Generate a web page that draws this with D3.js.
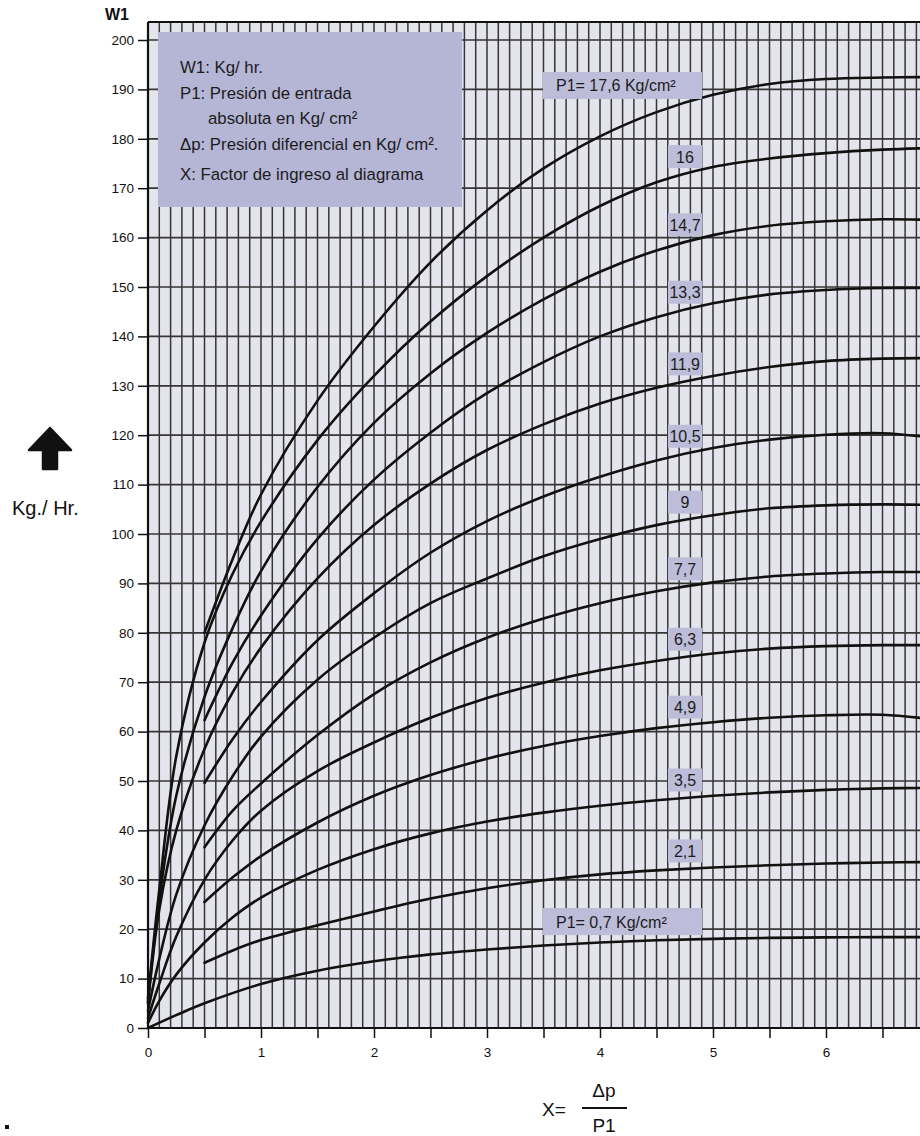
<!DOCTYPE html>
<html>
<head>
<meta charset="utf-8">
<script src="https://cdn.jsdelivr.net/npm/d3@7"></script>
<style>
  html, body { margin: 0; padding: 0; background: #ffffff; }
  svg { display: block; font-family: "Liberation Sans", Arial, Helvetica, sans-serif; }
</style>
</head>
<body>
<svg id="chart" width="920" height="1136"></svg>
<script>
// Flow curves W1 (Kg/hr) versus entry factor X = Δp / P1, one curve per inlet pressure P1.
const p0_7  = [[0,0],[0.25,2.6],[0.5,5],[1,8.9],[1.5,11.6],[2,13.5],[2.5,14.9],[3,15.9],[3.5,16.7],[4,17.3],[4.5,17.75],[5,18.05],[5.5,18.25],[6,18.35],[6.5,18.4],[6.9,18.4]];
const p2_1  = [[0.5,13.2],[0.75,15.7],[1,17.8],[1.5,20.8],[2,23.6],[2.5,26.2],[3,28.3],[3.5,29.9],[4,31.1],[4.5,31.9],[5,32.5],[5.5,32.95],[6,33.3],[6.5,33.5],[6.9,33.6]];
const p3_5  = [[0,1],[0.1,5.5],[0.25,10.8],[0.5,17.3],[0.75,22.4],[1,26.4],[1.5,32],[2,36.2],[2.5,39.4],[3,41.8],[3.5,43.6],[4,45],[4.5,46.1],[5,47],[5.5,47.7],[6,48.2],[6.5,48.5],[6.9,48.6]];
const p4_9  = [[0.5,25.5],[0.75,30.5],[1,34.8],[1.5,41.6],[2,47],[2.5,51.2],[3,54.5],[3.5,57.1],[4,59.1],[4.5,60.7],[5,61.9],[5.5,62.8],[6,63.3],[6.5,63.4],[6.9,62.6]];
const p6_3  = [[0,2],[0.1,9],[0.25,18.5],[0.5,30],[0.75,38],[1,44],[1.5,52],[2,57.8],[2.5,62.8],[3,66.8],[3.5,69.9],[4,72.4],[4.5,74.3],[5,75.8],[5.5,76.8],[6,77.3],[6.5,77.5],[6.9,77.5]];
const p7_7  = [[0.5,36.6],[0.75,44],[1,49.5],[1.5,59.3],[2,67.6],[2.5,74],[3,79],[3.5,82.9],[4,86],[4.5,88.4],[5,90.2],[5.5,91.4],[6,92],[6.5,92.3],[6.9,92.3]];
const p9    = [[0,3.5],[0.1,14],[0.25,27],[0.5,41],[0.75,51],[1,59],[1.5,70.5],[2,79],[2.5,86],[3,91],[3.5,95.5],[4,99],[4.5,101.8],[5,103.8],[5.5,105.2],[6,105.8],[6.5,106],[6.9,105.9]];
const p10_5 = [[0.5,49.6],[0.75,58.5],[1,66],[1.5,78.5],[2,88],[2.5,96.2],[3,102.6],[3.5,107.6],[4,111.6],[4.5,114.9],[5,117.4],[5.5,119.1],[6,120.1],[6.5,120.4],[6.9,119.6]];
const p11_9 = [[0,5],[0.1,24],[0.25,40],[0.5,56.5],[0.75,68],[1,77],[1.5,91],[2,101.8],[2.5,110.2],[3,117],[3.5,122.2],[4,126.4],[4.5,129.6],[5,132],[5.5,133.8],[6,135],[6.5,135.5],[6.9,135.6]];
const p13_3 = [[0.5,62.3],[0.75,74],[1,83.5],[1.5,99],[2,111],[2.5,120.5],[3,128.5],[3.5,134.8],[4,140],[4.5,143.9],[5,146.7],[5.5,148.5],[6,149.4],[6.5,149.8],[6.9,149.8]];
const p14_7 = [[0,5.5],[0.1,26],[0.25,47],[0.5,67],[0.75,81],[1,92.5],[1.5,109.5],[2,122.5],[2.5,132.5],[3,140.7],[3.5,147.5],[4,153.1],[4.5,157.4],[5,160.5],[5.5,162.4],[6,163.3],[6.5,163.7],[6.9,163.6]];
const p16   = [[0,6],[0.1,28],[0.25,55],[0.5,78],[0.75,92],[1,102.5],[1.5,119],[2,132],[2.5,143],[3,152.2],[3.5,160],[4,166.4],[4.5,171.2],[5,174.3],[5.5,176],[6,177.1],[6.5,177.8],[6.9,178.1]];
const p17_6 = [[0.5,80],[0.75,95],[1,108],[1.5,127],[2,142],[2.5,155],[3,165.5],[3.5,174],[4,180.5],[4.5,185.4],[5,188.9],[5.5,191.1],[6,192.1],[6.5,192.4],[6.9,192.5]];

const curves = [p0_7, p2_1, p3_5, p4_9, p6_3, p7_7, p9, p10_5, p11_9, p13_3, p14_7, p16, p17_6];
const curveLabels = ["P1= 0,7 Kg/cm²", "2,1", "3,5", "4,9", "6,3", "7,7", "9", "10,5", "11,9", "13,3", "14,7", "16", "P1= 17,6 Kg/cm²"];

const yTicks = d3.range(0, 201, 10);
const xTicks = d3.range(0, 7, 0.5);
const xLabelTicks = [0, 1, 2, 3, 4, 5, 6];
const legendLines = ["W1: Kg/ hr.", "P1: Presión de entrada", "absoluta en Kg/ cm²", "Δp: Presión diferencial en Kg/ cm².", "X: Factor de ingreso al diagrama"];

const svg = d3.select("#chart");
const plotLeft = 148, plotBottom = 1028, plotTop = 22, plotRight = 920, pxPerX = 113;
const x = d3.scaleLinear().domain([0, 6.9]).range([plotLeft, plotLeft + 6.9 * pxPerX]);
const y = d3.scaleLinear().domain([0, 200]).range([plotBottom, 40]);

const gridColor = "#363636";
const paper = "#e4e4ec";
const boxFill = "#b5b5d5";
const tagFill = "#bdbdda";

// plotting paper
svg.append("rect").attr("x", plotLeft).attr("y", plotTop).attr("width", plotRight - plotLeft).attr("height", plotBottom - plotTop).attr("fill", paper);

// fine vertical rulings every 0.1
const g = svg.append("g");
g.selectAll("line.v").data(d3.range(0, 70).map(i => i / 10)).join("line")
  .attr("class", "v")
  .attr("x1", d => x(d)).attr("x2", d => x(d))
  .attr("y1", plotTop).attr("y2", plotBottom)
  .attr("stroke", gridColor).attr("stroke-width", 1.5);
// horizontal rulings every 10
g.selectAll("line.h").data(yTicks).join("line")
  .attr("class", "h")
  .attr("x1", plotLeft).attr("x2", plotRight)
  .attr("y1", d => y(d)).attr("y2", d => y(d))
  .attr("stroke", gridColor).attr("stroke-width", 1.7);

// frame
svg.append("line").attr("x1", plotLeft).attr("x2", plotRight).attr("y1", plotTop).attr("y2", plotTop).attr("stroke", "#111").attr("stroke-width", 2);
svg.append("line").attr("x1", plotLeft).attr("x2", plotRight).attr("y1", plotBottom).attr("y2", plotBottom).attr("stroke", "#111").attr("stroke-width", 2);
svg.append("line").attr("x1", plotLeft).attr("x2", plotLeft).attr("y1", plotTop).attr("y2", plotBottom + 1).attr("stroke", "#111").attr("stroke-width", 2.2);

// curves
const line = d3.line().x(d => x(d[0])).y(d => y(d[1])).curve(d3.curveCatmullRom.alpha(0.5));
svg.append("g").selectAll("path").data(curves).join("path")
  .attr("d", line).attr("fill", "none")
  .attr("stroke", "#111").attr("stroke-width", 2.6)
  .attr("stroke-linecap", "round");

// legend box
const lg = svg.append("g");
lg.append("rect").attr("x", 158).attr("y", 32).attr("width", 304).attr("height", 175).attr("fill", boxFill);
const legendY = [73, 99, 124, 150, 180];
const legendX = [180, 180, 208, 180, 180];
lg.selectAll("text").data(legendLines).join("text")
  .attr("x", (d, i) => legendX[i]).attr("y", (d, i) => legendY[i])
  .attr("font-size", 16.8).attr("fill", "#1c1c1c")
  .text(d => d);

// curve tags, placed just above each curve
function valueAt(pts, xv) {
  for (let i = 1; i < pts.length; i++) {
    if (pts[i][0] >= xv) {
      const a = pts[i - 1], b = pts[i];
      return a[1] + (b[1] - a[1]) * (xv - a[0]) / (b[0] - a[0]);
    }
  }
  return pts[pts.length - 1][1];
}
const tagX = 4.75;
const tags = svg.append("g");
curves.forEach((pts, i) => {
  const cy = y(valueAt(pts, tagX)) - 18;
  const label = curveLabels[i];
  const wide = label.startsWith("P1");
  const bx = wide ? 543 : 668, bw = wide ? 159 : 34, bh = wide ? 27 : 23;
  tags.append("rect").attr("x", bx).attr("y", cy - bh / 2).attr("width", bw).attr("height", bh).attr("fill", tagFill);
  tags.append("text")
    .attr("x", wide ? 556 : 685).attr("y", cy + 6)
    .attr("text-anchor", wide ? "start" : "middle")
    .attr("font-size", 16).attr("fill", "#1c1c1c")
    .text(label);
});

// y axis
const yAxis = d3.axisLeft(y).tickValues(yTicks).tickSize(10).tickPadding(4).tickFormat(d3.format("d"));
const ya = svg.append("g").attr("transform", `translate(${plotLeft},0)`).call(yAxis);
ya.select(".domain").remove();
ya.selectAll(".tick line").attr("stroke", "#111").attr("stroke-width", 1.5);
ya.selectAll(".tick text").attr("font-size", 13.5).attr("fill", "#111").attr("font-family", "Liberation Sans, Arial, sans-serif");

// x axis
const xAxis = d3.axisBottom(x).tickValues(xTicks).tickSize(10).tickPadding(9)
  .tickFormat(d => xLabelTicks.includes(d) ? d3.format("d")(d) : "");
const xa = svg.append("g").attr("transform", `translate(0,${plotBottom})`).call(xAxis);
xa.select(".domain").remove();
xa.selectAll(".tick line").attr("stroke", "#111").attr("stroke-width", 1.5);
xa.selectAll(".tick text").attr("font-size", 13.5).attr("fill", "#111").attr("font-family", "Liberation Sans, Arial, sans-serif");

// axis titles
svg.append("text").attr("x", 105).attr("y", 20).attr("font-size", 16).attr("font-weight", "bold").attr("fill", "#111").text("W1");
svg.append("path")
  .attr("d", "M50,428 L71,450 L57,450 L57,469 L43,469 L43,450 L29,450 Z")
  .attr("fill", "#111").attr("stroke", "#111").attr("stroke-width", 2.5).attr("stroke-linejoin", "round");
svg.append("text").attr("x", 12).attr("y", 515).attr("font-size", 20).attr("fill", "#111").text("Kg./ Hr.");

const fx = svg.append("g").attr("fill", "#111").attr("font-size", 19);
fx.append("text").attr("x", 542).attr("y", 1116).text("X=");
fx.append("text").attr("x", 604).attr("y", 1097).attr("text-anchor", "middle").text("Δp");
fx.append("line").attr("x1", 582).attr("x2", 627).attr("y1", 1108).attr("y2", 1108).attr("stroke", "#111").attr("stroke-width", 1.8);
fx.append("text").attr("x", 604).attr("y", 1132).attr("text-anchor", "middle").text("P1");
svg.append("rect").attr("x", 5).attr("y", 1125).attr("width", 4).attr("height", 4).attr("fill", "#111");
</script>
</body>
</html>
